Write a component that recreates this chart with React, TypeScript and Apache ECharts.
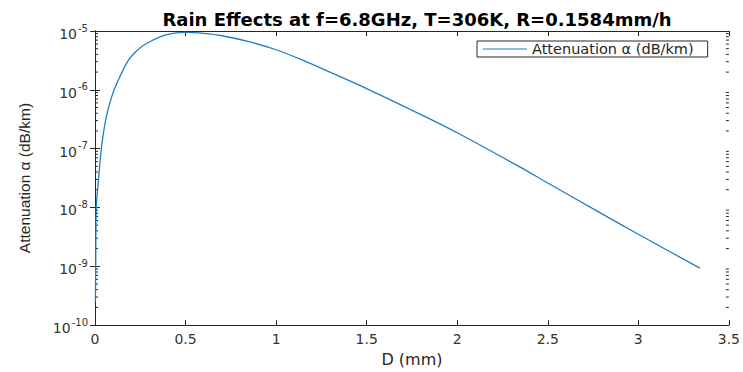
import React, { useEffect, useRef } from "react";
import * as echarts from "echarts";

const titleText = "Rain Effects at f=6.8GHz, T=306K, R=0.1584mm/h";
const seriesName = "Attenuation \u03b1 (dB/km)";
const xAxisName = "D (mm)";
const yAxisName = "Attenuation \u03b1 (dB/km)";

const dropDiameters = [
  0.002, 0.004, 0.0073, 0.02, 0.035, 0.06, 0.092, 0.128, 0.183, 0.229, 0.275, 0.366, 0.43, 0.504,
  0.6, 0.7, 0.85, 1.0, 1.15, 1.29, 1.5, 1.84, 2.0, 2.35, 2.5, 2.79, 3.0, 3.34,
];
const attenuationValues = [
  2.5e-10, 1e-9, 1e-8, 3.2e-8, 1e-7, 3.2e-7, 7.6e-7, 1.45e-6, 3.13e-6, 4.57e-6, 5.9e-6, 8.1e-6,
  9.1e-6, 9.5e-6, 9.1e-6, 8.3e-6, 6.6e-6, 4.8e-6, 3.16e-6, 2.04e-6, 1.05e-6, 3.3e-7, 1.86e-7,
  4.8e-8, 2.6e-8, 8.1e-9, 3.5e-9, 9.3e-10,
];

const xMin = 0;
const xMax = 3.5;
const xInterval = 0.5;
const yMin = 1e-10;
const yMax = 1e-5;

const minorMultipliers = [2, 3, 4, 5, 6, 7, 8, 9];
const decadeStarts = [1e-10, 1e-9, 1e-8, 1e-7, 1e-6];

export default function App() {
  const ref = useRef<HTMLDivElement>(null);

  useEffect(() => {
    document.body.style.margin = "0";
    if (!ref.current) return;
    const chart = echarts.init(ref.current, undefined, { renderer: "svg" });

    const minorTicks: number[] = [];
    decadeStarts.forEach((d) => minorMultipliers.forEach((m) => minorTicks.push(d * m)));

    const lineColor = "#1f7fc2";
    const axisColor = "#262626";
    const wide = "DejaVu Sans, Verdana, sans-serif";
    const narrow = "Liberation Sans, Arial, Helvetica, sans-serif";

    const yLabelFormatter = (v: number) => {
      const e = Math.round(Math.log10(v));
      return `{b|10}{s|${e}}`;
    };

    chart.setOption({
      animation: false,
      backgroundColor: "#ffffff",
      title: {
        text: titleText,
        left: 412,
        top: 5,
        textAlign: "center",
        textStyle: { fontFamily: wide, fontWeight: "bold", fontSize: 18, color: "#000" },
      },
      legend: {
        data: [{ name: seriesName, icon: "rect" }],
        left: 477,
        top: 41,
        itemWidth: 44,
        itemHeight: 1,
        itemGap: 5,
        padding: [0, 14, 0, 6],
        borderColor: axisColor,
        borderWidth: 1,
        backgroundColor: "#fff",
        borderRadius: 0,
        textStyle: { fontFamily: wide, fontSize: 14.5, color: "#262626", lineHeight: 16 },
      },
      grid: { left: 95, right: 11, top: 31, bottom: 40, containLabel: false },
      xAxis: [
        {
          type: "value",
          min: xMin,
          max: xMax,
          interval: xInterval,
          position: "bottom",
          name: xAxisName,
          nameLocation: "middle",
          nameGap: 21,
          nameTextStyle: { fontFamily: wide, fontSize: 16, color: axisColor },
          axisLine: { show: true, lineStyle: { color: axisColor, width: 1 } },
          axisTick: { show: true, inside: true, length: 5, lineStyle: { color: axisColor } },
          axisLabel: { fontFamily: wide, fontSize: 14, color: "#333", margin: 7 },
          splitLine: { show: false },
        },
        {
          type: "value",
          min: xMin,
          max: xMax,
          interval: xInterval,
          position: "top",
          axisLine: { show: true, lineStyle: { color: axisColor, width: 1 } },
          axisTick: { show: true, inside: true, length: 5, lineStyle: { color: axisColor } },
          axisLabel: { show: false },
          splitLine: { show: false },
        },
      ],
      yAxis: [
        {
          type: "log",
          logBase: 10,
          min: yMin,
          max: yMax,
          position: "left",
          name: yAxisName,
          nameLocation: "middle",
          nameGap: 63,
          nameTextStyle: { fontFamily: narrow, fontSize: 15.5, color: axisColor },
          axisLine: { show: true, lineStyle: { color: axisColor, width: 1 } },
          axisTick: { show: true, inside: true, length: 5, lineStyle: { color: axisColor } },
          axisLabel: {
            margin: 7,
            formatter: yLabelFormatter,
            rich: {
              b: { fontFamily: wide, fontSize: 14, color: "#333", padding: [6, 0, 0, 0] },
              s: { fontFamily: wide, fontSize: 10, color: "#333", padding: [0, 0, 6, 1] },
            },
          },
          splitLine: { show: false },
        },
        {
          type: "log",
          logBase: 10,
          min: yMin,
          max: yMax,
          position: "right",
          axisLine: { show: true, lineStyle: { color: axisColor, width: 1 } },
          axisTick: { show: true, inside: true, length: 5, lineStyle: { color: axisColor } },
          axisLabel: { show: false },
          splitLine: { show: false },
        },
      ],
      series: [
        {
          name: seriesName,
          type: "line",
          xAxisIndex: 0,
          yAxisIndex: 0,
          data: dropDiameters.map((d, i) => [d, attenuationValues[i]]),
          showSymbol: false,
          symbol: "none",
          smooth: 0.3,
          lineStyle: { color: lineColor, width: 1.3 },
          itemStyle: { color: lineColor },
          z: 3,
        },
        {
          name: "minorTicks",
          type: "custom",
          xAxisIndex: 0,
          yAxisIndex: 0,
          silent: true,
          data: minorTicks.map((v) => [xMin, v]),
          renderItem: (params: any, api: any) => {
            const v = api.value(1);
            const l = api.coord([xMin, v]);
            const r = api.coord([xMax, v]);
            const style = { stroke: axisColor, lineWidth: 1 };
            return {
              type: "group",
              children: [
                { type: "line", shape: { x1: l[0], y1: l[1], x2: l[0] + 3, y2: l[1] }, style },
                { type: "line", shape: { x1: r[0], y1: r[1], x2: r[0] - 3, y2: r[1] }, style },
              ],
            };
          },
          z: 2,
        },
      ],
    });

    return () => chart.dispose();
  }, []);

  return (
    <div
      ref={ref}
      style={{ position: "absolute", left: 0, top: 0, width: 743, height: 372 }}
    />
  );
}
